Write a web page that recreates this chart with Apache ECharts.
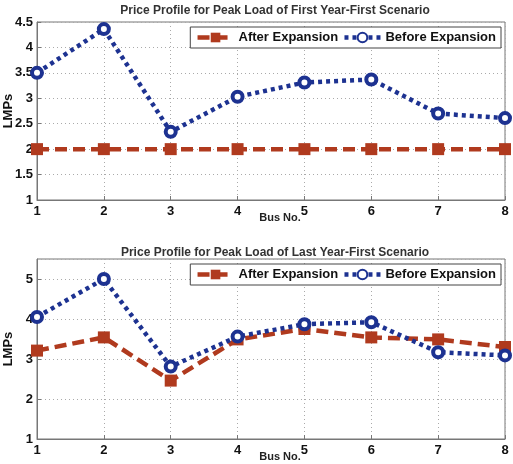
<!DOCTYPE html>
<html>
<head>
<meta charset="UTF-8">
<title>Price Profile</title>
<script src="https://cdn.jsdelivr.net/npm/echarts@6/dist/echarts.min.js"></script>
<style>
  html, body { margin: 0; padding: 0; background: #fff; }
  #main { width: 513px; height: 464px; }
</style>
</head>
<body>
<div id="main"></div>
<script>
var buses = [1, 2, 3, 4, 5, 6, 7, 8];
var firstAfter = [2, 2, 2, 2, 2, 2, 2, 2];
var firstBefore = [3.5, 4.36, 2.34, 3.03, 3.31, 3.37, 2.7, 2.61];
var lastAfter = [3.21, 3.54, 2.46, 3.49, 3.75, 3.54, 3.49, 3.3];
var lastBefore = [4.05, 5.0, 2.81, 3.56, 3.87, 3.92, 3.17, 3.09];

var red = '#b03a1e';
var blue = '#1d3291';

function pairs(vals) {
    return buses.map(function (b, i) { return [b, vals[i]]; });
}

function afterSeries(idx, vals) {
    return {
        name: 'After Expansion', type: 'line',
        xAxisIndex: idx, yAxisIndex: idx,
        data: pairs(vals),
        symbol: 'rect', symbolSize: 12,
        itemStyle: { color: red },
        lineStyle: { color: red, width: 4.5, type: [12, 6] },
        z: 2
    };
}
function beforeSeries(idx, vals) {
    return {
        name: 'Before Expansion', type: 'line',
        xAxisIndex: idx, yAxisIndex: idx,
        data: pairs(vals),
        symbol: 'circle', symbolSize: 10,
        itemStyle: { color: '#fff', borderColor: blue, borderWidth: 4 },
        lineStyle: { color: blue, width: 4.5, type: [4, 4] },
        z: 3
    };
}

var labelStyle = { color: '#111', fontWeight: 'bold', fontSize: 13, fontFamily: 'Liberation Sans' };
var splitStyle = { show: true, lineStyle: { color: '#aaa', type: [1, 3], width: 1 } };

function xAx(idx, gap) {
    return {
        type: 'value', gridIndex: idx, min: 1, max: 8, interval: 1,
        name: 'Bus No.', nameLocation: 'middle', nameGap: gap, nameMoveOverlap: false,
        nameTextStyle: { color: '#222', fontWeight: 'bold', fontSize: 11, fontFamily: 'Liberation Sans', padding: [0, 0, 0, 18] },
        axisLine: { lineStyle: { color: '#777' } },
        axisTick: { inside: true, length: 4, lineStyle: { color: '#777' } },
        axisLabel: Object.assign({ margin: 5 }, labelStyle),
        splitLine: splitStyle
    };
}
function yAx(idx, min, max, interval) {
    return {
        type: 'value', gridIndex: idx, min: min, max: max, interval: interval,
        name: 'LMPs', nameLocation: 'middle', nameGap: 22, nameMoveOverlap: false,
        nameTextStyle: { color: '#111', fontWeight: 'bold', fontSize: 13, fontFamily: 'Liberation Sans' },
        axisLine: { show: true, lineStyle: { color: '#777' } },
        axisTick: { inside: true, length: 4, lineStyle: { color: '#777' } },
        axisLabel: Object.assign({ margin: 4, showMaxLabel: idx === 0 }, labelStyle),
        splitLine: splitStyle
    };
}

var legendBase = {
    orient: 'horizontal', right: 12, itemGap: 4, itemWidth: 36, itemHeight: 12,
    backgroundColor: '#fff', borderColor: '#444', borderWidth: 1,
    padding: [4, 5, 4, 5],
    lineStyle: { width: 4.5 },
    textStyle: { color: '#111', fontWeight: 'bold', fontSize: 13, fontFamily: 'Liberation Sans' },
    data: ['After Expansion', 'Before Expansion']
};

var myChart = echarts.init(document.getElementById('main'));
var option = {
    animation: false,
    backgroundColor: '#fff',
    title: [
        { text: 'Price Profile for Peak Load of First Year-First Scenario', left: 270, textAlign: 'center', top: 0,
          textStyle: { color: '#333', fontWeight: 'bold', fontSize: 12, fontFamily: 'Liberation Sans' } },
        { text: 'Price Profile for Peak Load of Last Year-First Scenario', left: 270, textAlign: 'center', top: 242,
          textStyle: { color: '#333', fontWeight: 'bold', fontSize: 12, fontFamily: 'Liberation Sans' } }
    ],
    legend: [
        Object.assign({ top: 27 }, legendBase),
        Object.assign({ top: 264 }, legendBase)
    ],
    grid: [
        { left: 37, right: 8, top: 22, height: 178, show: true, borderColor: '#777', borderWidth: 1, outerBoundsMode: 'none', containLabel: false },
        { left: 37, right: 8, top: 259, height: 180, show: true, borderColor: '#777', borderWidth: 1, outerBoundsMode: 'none', containLabel: false }
    ],
    xAxis: [xAx(0, 12), xAx(1, 12)],
    yAxis: [yAx(0, 1, 4.5, 0.5), yAx(1, 1, 5.5, 1)],
    series: [
        afterSeries(0, firstAfter),
        beforeSeries(0, firstBefore),
        afterSeries(1, lastAfter),
        beforeSeries(1, lastBefore)
    ]
};
myChart.setOption(option);
</script>
</body>
</html>
